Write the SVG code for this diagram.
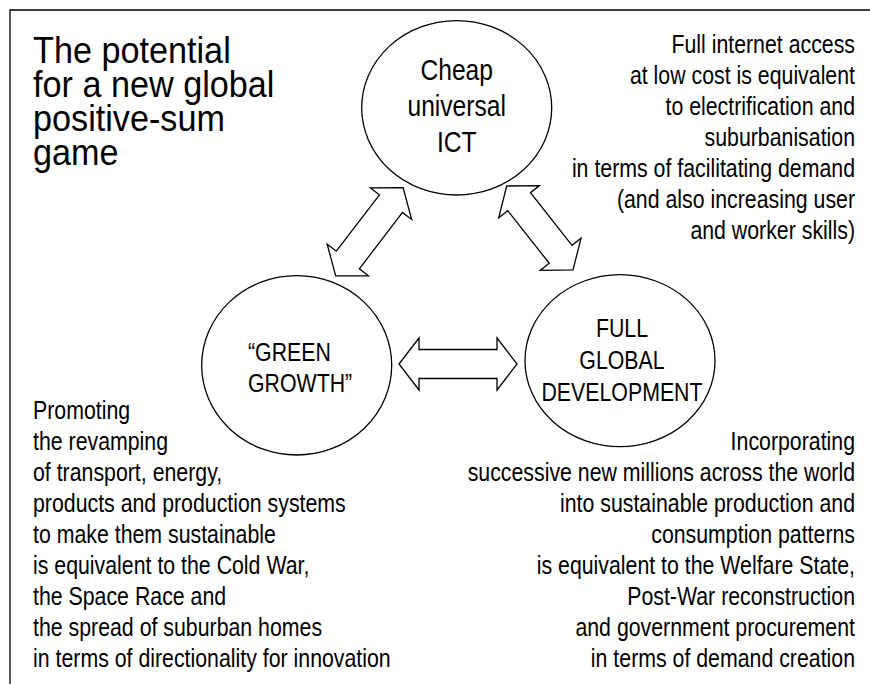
<svg xmlns="http://www.w3.org/2000/svg" width="870" height="684" viewBox="0 0 870 684">
<style>
text{font-family:"Liberation Sans",Arial,sans-serif;fill:#000}
.body{font-size:26px}
.title{font-size:36px}
.big{font-size:30px}
.node{fill:#fff;stroke:#000;stroke-width:1.3}
.arrow{fill:#fff;stroke:#000;stroke-width:1.3;stroke-linejoin:miter}
</style>
<rect width="870" height="684" fill="#fff"/>
<path d="M10,684 V10 H870" fill="none" stroke="#000" stroke-width="1.3"/>
<g id="title">
<text class="title" transform="translate(33,63) scale(0.95,1)"><tspan x="0" y="0">The potential</tspan><tspan x="0" dy="34">for a new global</tspan><tspan x="0" dy="34">positive-sum</tspan><tspan x="0" dy="34">game</tspan></text>
</g>
<g id="node-ict">
<ellipse class="node" cx="456.7" cy="107.8" rx="95" ry="87.2"/>
<text class="big" text-anchor="middle" transform="translate(456.7,80) scale(0.82,1)"><tspan x="0" y="0">Cheap</tspan><tspan x="0" dy="36">universal</tspan><tspan x="0" dy="36">ICT</tspan></text>
</g>
<g id="node-green">
<ellipse class="node" cx="296.7" cy="365.3" rx="95" ry="89.7"/>
<text class="body" transform="translate(248,361) scale(0.82,1)"><tspan x="0" y="0">“GREEN</tspan><tspan x="0" dy="31">GROWTH”</tspan></text>
</g>
<g id="node-development">
<ellipse class="node" cx="620" cy="360.7" rx="95" ry="86"/>
<text class="body" text-anchor="middle" transform="translate(622,337) scale(0.82,1)"><tspan x="0" y="0">FULL</tspan><tspan x="0" dy="32">GLOBAL</tspan><tspan x="0" dy="32">DEVELOPMENT</tspan></text>
</g>
<g id="connectors">
<polygon class="arrow" transform="translate(399,364)" points="0,0 20,-26 20,-14.5 98,-14.5 98,-26 118,0 98,26 98,14.5 20,14.5 20,26"/>
<polygon class="arrow" transform="translate(335.7,275.9) rotate(-52.6)" points="0,0 20,-26 20,-14.5 91,-14.5 91,-26 111,0 91,26 91,14.5 20,14.5 20,26"/>
<polygon class="arrow" transform="translate(506.7,186) rotate(51.7)" points="0,0 20,-26 20,-14.5 87,-14.5 87,-26 107,0 87,26 87,14.5 20,14.5 20,26"/>
</g>
<g id="note-ict">
<text class="body" text-anchor="end" transform="translate(855,53) scale(0.82,1)"><tspan x="0" y="0">Full internet access</tspan><tspan x="0" dy="31">at low cost is equivalent</tspan><tspan x="0" dy="31">to electrification and</tspan><tspan x="0" dy="31">suburbanisation</tspan><tspan x="0" dy="31">in terms of facilitating demand</tspan><tspan x="0" dy="31">(and also increasing user</tspan><tspan x="0" dy="31">and worker skills)</tspan></text>
</g>
<g id="note-green">
<text class="body" transform="translate(33,419) scale(0.82,1)"><tspan x="0" y="0">Promoting</tspan><tspan x="0" dy="31">the revamping</tspan><tspan x="0" dy="31">of transport, energy,</tspan><tspan x="0" dy="31">products and production systems</tspan><tspan x="0" dy="31">to make them sustainable</tspan><tspan x="0" dy="31">is equivalent to the Cold War,</tspan><tspan x="0" dy="31">the Space Race and</tspan><tspan x="0" dy="31">the spread of suburban homes</tspan><tspan x="0" dy="31">in terms of directionality for innovation</tspan></text>
</g>
<g id="note-development">
<text class="body" text-anchor="end" transform="translate(855,450) scale(0.82,1)"><tspan x="0" y="0">Incorporating</tspan><tspan x="0" dy="31">successive new millions across the world</tspan><tspan x="0" dy="31">into sustainable production and</tspan><tspan x="0" dy="31">consumption patterns</tspan><tspan x="0" dy="31">is equivalent to the Welfare State,</tspan><tspan x="0" dy="31">Post-War reconstruction</tspan><tspan x="0" dy="31">and government procurement</tspan><tspan x="0" dy="31">in terms of demand creation</tspan></text>
</g>
</svg>
